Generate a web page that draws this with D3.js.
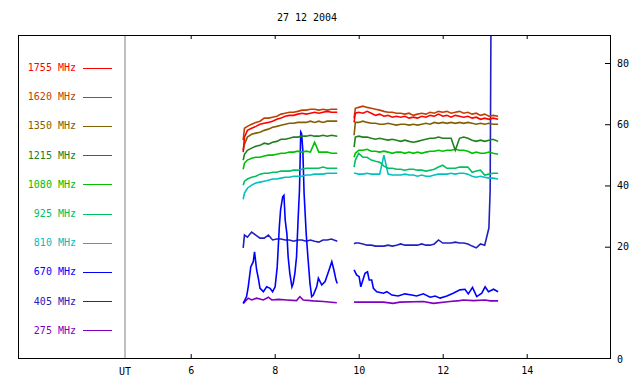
<!DOCTYPE html>
<html>
<head>
<meta charset="utf-8">
<script src="https://cdn.jsdelivr.net/npm/d3@7"></script>
<style>
body { margin: 0; background: #fff; }
svg { display: block; font-family: "DejaVu Sans Mono", monospace; font-size: 10px; }
</style>
</head>
<body>
<div id="chart"></div>
<script>
// radio flux, one line per frequency, two observing runs
var title = "27 12 2004";
var freqs = ["1755", "1620", "1350", "1215", "1080", "925", "810", "670", "405", "275"];
var colors = ["#ff0000", "#c04000", "#806000", "#208020", "#00c000", "#00c060", "#00c0c0", "#0000ff", "#2020c0", "#8000c0"];
var hourTicks = [6, 8, 10, 12, 14];
var valueTicks = [20, 40, 60, 80];

var tA = [7.25, 7.28, 7.35, 7.45, 7.55, 7.65, 7.75, 7.85, 7.95, 8.05, 8.15, 8.25, 8.35, 8.45, 8.55, 8.65, 8.75, 8.85, 8.95, 9.05, 9.15, 9.25, 9.35, 9.49];
var tB = [9.89, 9.92, 10.0, 10.1, 10.2, 10.3, 10.4, 10.5, 10.6, 10.7, 10.8, 10.9, 11.0, 11.1, 11.2, 11.3, 11.4, 11.5, 11.6, 11.7, 11.8, 11.9, 12.0, 12.1, 12.2, 12.3, 12.4, 12.5, 12.6, 12.7, 12.8, 12.9, 13.0, 13.1, 13.2, 13.32];

var v1755a = [50.9, 55.8, 58.0, 58.7, 59.3, 60.0, 60.3, 60.6, 61.0, 61.6, 62.0, 62.6, 62.9, 62.9, 63.3, 63.6, 63.3, 63.6, 63.9, 63.6, 63.9, 64.2, 63.9, 63.9];
var v1755b = [60.6, 63.6, 63.9, 63.6, 64.2, 63.6, 62.9, 63.3, 62.6, 62.9, 62.3, 62.6, 62.3, 62.6, 62.0, 62.3, 62.0, 62.6, 62.3, 62.9, 62.6, 63.3, 62.6, 62.9, 62.3, 62.9, 62.6, 62.3, 62.6, 62.0, 62.3, 61.6, 62.0, 61.6, 62.0, 61.6];
var v1620a = [54.8, 58.7, 59.3, 60.0, 60.6, 61.0, 62.0, 62.0, 62.3, 62.6, 63.3, 63.6, 63.9, 63.9, 64.2, 64.6, 64.6, 64.9, 64.9, 64.6, 64.9, 64.6, 64.9, 64.9];
var v1620b = [62.0, 65.2, 65.5, 65.9, 65.5, 65.2, 64.9, 64.6, 64.2, 63.9, 63.9, 63.6, 63.6, 63.3, 63.6, 62.9, 63.3, 63.6, 63.3, 63.9, 63.6, 64.2, 63.9, 64.2, 63.6, 63.9, 64.2, 63.6, 63.9, 63.3, 63.6, 62.9, 63.3, 62.6, 62.9, 62.6];
var v1350a = [51.5, 53.5, 55.8, 56.7, 57.1, 57.4, 58.0, 58.4, 59.0, 59.3, 59.7, 60.0, 60.3, 60.3, 60.6, 60.6, 60.6, 61.0, 60.6, 61.0, 60.6, 61.0, 61.0, 61.0];
var v1350b = [56.4, 60.6, 60.6, 61.0, 60.6, 60.3, 60.3, 60.0, 60.0, 60.3, 60.0, 59.7, 60.0, 60.0, 59.7, 60.0, 59.7, 60.0, 60.3, 60.0, 60.6, 60.3, 60.6, 60.3, 60.6, 60.3, 60.6, 60.3, 60.6, 60.3, 60.0, 60.3, 60.0, 60.3, 60.0, 60.0];
var v1215a = [48.3, 50.2, 51.5, 52.2, 52.8, 53.1, 53.8, 53.5, 54.1, 54.4, 55.1, 55.1, 55.4, 55.8, 55.8, 56.1, 56.1, 56.4, 56.1, 56.1, 56.4, 56.1, 56.4, 56.1];
var v1215b = [52.5, 55.8, 56.1, 55.8, 55.8, 55.4, 55.1, 55.4, 55.1, 54.8, 55.1, 54.8, 54.4, 54.8, 54.4, 54.1, 54.4, 54.8, 55.1, 55.4, 55.4, 55.8, 55.4, 55.4, 55.4, 51.5, 55.4, 55.8, 55.4, 54.8, 54.4, 54.8, 54.4, 54.8, 55.1, 54.4];
var v1080a = [45.3, 47.3, 48.3, 48.9, 49.2, 49.2, 49.6, 49.9, 49.9, 50.2, 50.5, 50.5, 50.9, 50.9, 51.2, 50.9, 51.2, 50.9, 54.1, 50.9, 50.9, 50.9, 50.5, 50.5];
var v1080b = [49.2, 50.5, 51.5, 51.5, 51.8, 51.2, 51.2, 50.9, 51.2, 50.9, 50.5, 50.9, 50.9, 50.5, 50.9, 50.5, 50.9, 50.5, 50.9, 51.2, 51.2, 51.5, 51.2, 51.5, 51.5, 51.8, 51.5, 51.5, 51.2, 50.5, 50.9, 50.5, 50.5, 50.9, 50.5, 50.2];
var v925a = [40.1, 41.4, 42.1, 42.7, 43.0, 43.7, 44.0, 44.0, 44.3, 44.3, 44.7, 44.7, 44.7, 45.0, 45.0, 45.3, 45.6, 45.6, 45.6, 45.6, 46.0, 45.6, 45.6, 45.6];
var v925b = [46.0, 48.3, 50.5, 49.2, 49.2, 48.3, 47.9, 47.6, 46.3, 45.6, 45.6, 45.3, 45.3, 45.0, 45.3, 45.3, 45.0, 45.0, 44.7, 45.0, 45.3, 46.0, 46.6, 45.6, 45.6, 45.6, 46.0, 46.0, 46.0, 44.3, 44.7, 45.0, 43.4, 43.7, 44.0, 44.0];
var v810a = [35.5, 37.5, 39.1, 40.1, 40.8, 41.1, 41.4, 41.7, 42.1, 42.1, 42.4, 42.7, 42.7, 43.0, 43.0, 43.0, 43.4, 43.4, 43.7, 43.7, 43.7, 44.0, 44.0, 44.0];
var v810b = [44.0, 44.0, 43.7, 43.7, 44.0, 43.7, 43.7, 43.7, 49.9, 43.7, 43.4, 43.4, 43.4, 43.7, 43.4, 43.4, 43.0, 43.4, 43.0, 43.0, 43.4, 43.7, 43.7, 43.7, 44.0, 43.7, 44.0, 44.0, 43.7, 43.0, 42.7, 43.0, 42.7, 42.4, 42.4, 42.1];

var h670a = [7.25, 7.33, 7.37, 7.43, 7.49, 7.52, 7.57, 7.61, 7.65, 7.69, 7.73, 7.81, 7.89, 7.95, 8.01, 8.06, 8.11, 8.14, 8.19, 8.22, 8.25, 8.29, 8.32, 8.36, 8.41, 8.44, 8.48, 8.52, 8.56, 8.59, 8.62, 8.64, 8.67, 8.70, 8.75, 8.79, 8.84, 8.88, 8.92, 9.00, 9.04, 9.12, 9.20, 9.28, 9.36, 9.41, 9.46, 9.49];
var v670a = [1.5, 3.7, 6.9, 13.4, 15.1, 18.3, 12.4, 9.7, 6.4, 5.9, 5.3, 6.9, 6.4, 5.3, 6.9, 13.4, 26.5, 32.0, 36.3, 36.8, 28.7, 24.3, 16.7, 11.3, 6.9, 8.0, 11.3, 16.7, 29.8, 38.5, 57.5, 57.0, 51.5, 37.4, 24.3, 16.7, 8.0, 3.7, 4.2, 6.9, 9.7, 7.5, 8.6, 11.8, 15.1, 12.4, 9.1, 8.0];
var h670b = [9.89, 9.95, 10.01, 10.05, 10.10, 10.15, 10.21, 10.25, 10.31, 10.35, 10.43, 10.59, 10.67, 10.79, 10.94, 11.10, 11.26, 11.38, 11.54, 11.70, 11.82, 11.94, 12.10, 12.25, 12.41, 12.53, 12.61, 12.71, 12.81, 12.93, 13.01, 13.09, 13.21, 13.32];
var v670b = [12.4, 10.8, 10.2, 6.9, 9.1, 11.3, 11.8, 9.1, 9.1, 6.4, 5.3, 4.8, 5.3, 4.2, 3.9, 4.6, 4.2, 3.9, 4.6, 3.5, 3.9, 3.2, 3.9, 4.8, 5.9, 6.1, 4.6, 6.7, 3.7, 4.8, 6.9, 5.3, 6.1, 5.3];

var v405a = [19.6, 23.8, 23.1, 24.8, 23.8, 22.8, 22.8, 23.8, 22.2, 22.5, 22.5, 22.2, 22.2, 21.8, 22.2, 22.2, 21.8, 22.2, 21.8, 21.5, 22.2, 22.2, 22.5, 21.8];
var h405b = [9.89, 9.92, 10.0, 10.1, 10.2, 10.3, 10.4, 10.5, 10.6, 10.7, 10.8, 10.9, 11.0, 11.1, 11.2, 11.3, 11.4, 11.5, 11.6, 11.7, 11.8, 11.9, 12.0, 12.1, 12.2, 12.3, 12.4, 12.5, 12.6, 12.7, 12.8, 12.9, 13.0, 13.1, 13.13, 13.15];
var v405b = [20.9, 21.2, 21.2, 20.9, 20.5, 20.5, 20.2, 20.2, 20.2, 20.5, 20.2, 20.5, 20.9, 20.5, 20.5, 20.5, 20.5, 20.9, 20.5, 20.5, 20.9, 22.2, 21.2, 21.2, 21.2, 21.5, 21.2, 21.2, 20.9, 20.2, 19.6, 20.9, 20.5, 26.1, 38.5, 95];

var h275a = [7.25, 7.37, 7.45, 7.57, 7.73, 7.85, 7.93, 8.09, 8.29, 8.52, 8.60, 8.68, 8.92, 9.16, 9.48];
var v275a = [1.5, 3.2, 2.6, 3.2, 2.6, 3.5, 2.6, 2.8, 2.6, 2.4, 3.7, 2.6, 2.3, 2.1, 1.7];
var h275b = [9.89, 10.59, 10.82, 10.98, 11.54, 11.78, 12.17, 12.40, 12.49, 12.73, 13.01, 13.13, 13.32];
var v275b = [1.9, 1.9, 1.5, 1.9, 2.1, 1.5, 2.1, 2.4, 2.6, 2.4, 2.6, 2.3, 2.3];

// segments per frequency, same order as freqs
var runs = [
  [[tA, v1755a], [tB, v1755b]],
  [[tA, v1620a], [tB, v1620b]],
  [[tA, v1350a], [tB, v1350b]],
  [[tA, v1215a], [tB, v1215b]],
  [[tA, v1080a], [tB, v1080b]],
  [[tA, v925a], [tB, v925b]],
  [[tA, v810a], [tB, v810b]],
  [[h670a, v670a], [h670b, v670b]],
  [[tA, v405a], [h405b, v405b]],
  [[h275a, v275a], [h275b, v275b]]
];

var width = 640, height = 384;
var frame = {left: 18, right: 610, top: 35, bottom: 358};
var utX = 125;

var svg = d3.select("#chart").append("svg")
  .attr("width", width)
  .attr("height", height);

var x = d3.scaleLinear().domain([6, 14]).range([190.7, 526.7]);
var y = d3.scaleLinear().domain([20, 80]).range([246.7, 63]);

svg.append("text")
  .attr("x", 307)
  .attr("y", 21)
  .attr("text-anchor", "middle")
  .attr("fill", "#000")
  .text(title);

svg.append("defs").append("clipPath").attr("id", "plotclip")
  .append("rect")
  .attr("x", utX).attr("y", frame.top)
  .attr("width", frame.right - utX).attr("height", frame.bottom - frame.top);

// UT separator
svg.append("line")
  .attr("x1", utX).attr("x2", utX)
  .attr("y1", frame.top).attr("y2", frame.bottom)
  .attr("stroke", "#808080");

svg.append("text")
  .attr("x", utX)
  .attr("y", 375)
  .attr("text-anchor", "middle")
  .text("UT");

// axes
var bottomAxis = d3.axisBottom(x).tickValues(hourTicks).tickSize(-4).tickPadding(9);
var topAxis = d3.axisTop(x).tickValues(hourTicks).tickSize(-4).tickFormat("");
var rightAxis = d3.axisRight(y).tickValues(valueTicks).tickSize(-5).tickPadding(7);

var gb = svg.append("g").attr("transform", "translate(0," + frame.bottom + ")").call(bottomAxis);
var gt = svg.append("g").attr("transform", "translate(0," + frame.top + ")").call(topAxis);
var gr = svg.append("g").attr("transform", "translate(" + frame.right + ",0)").call(rightAxis);
[gb, gt, gr].forEach(function (g) {
  g.select(".domain").remove();
  g.attr("font-family", null).attr("font-size", null);
  g.selectAll("line").attr("stroke", "#000");
  g.selectAll("text").attr("fill", "#000");
});

svg.append("text")
  .attr("x", frame.right + 7)
  .attr("y", frame.bottom + 5)
  .text("0");

// data lines
var line = d3.line()
  .x(function (d) { return x(d[0]); })
  .y(function (d) { return y(d[1]); });

var plot = svg.append("g").attr("clip-path", "url(#plotclip)");
for (var i = runs.length - 1; i >= 0; i--) {
  runs[i].forEach(function (seg) {
    var pts = seg[0].map(function (t, k) { return [t, seg[1][k]]; });
    plot.append("path")
      .attr("d", line(pts))
      .attr("fill", "none")
      .attr("stroke", colors[i])
      .attr("stroke-width", 1.6);
  });
}

// legend
freqs.forEach(function (f, i) {
  var ly = 67.5 + i * 29.2;
  svg.append("text")
    .attr("x", 76)
    .attr("y", ly + 3.5)
    .attr("text-anchor", "end")
    .attr("fill", colors[i])
    .text(f + " MHz");
  svg.append("line")
    .attr("x1", 83).attr("x2", 112)
    .attr("y1", Math.round(ly) + 0.5).attr("y2", Math.round(ly) + 0.5)
    .attr("stroke", colors[i]);
});

// frame
svg.append("rect")
  .attr("x", frame.left + 0.5)
  .attr("y", frame.top + 0.5)
  .attr("width", frame.right - frame.left)
  .attr("height", frame.bottom - frame.top)
  .attr("fill", "none")
  .attr("stroke", "#000");
</script>
</body>
</html>
